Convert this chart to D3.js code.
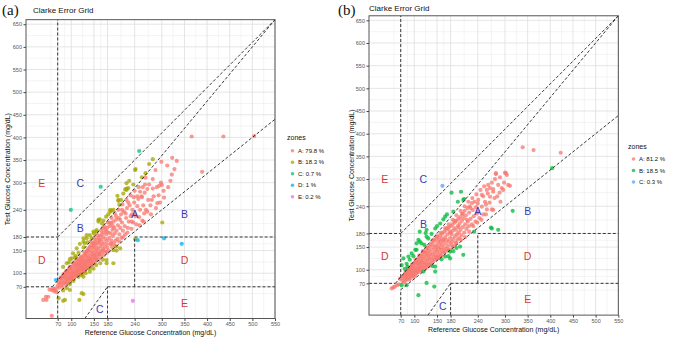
<!DOCTYPE html>
<html>
<head>
<meta charset="utf-8">
<script src="https://cdn.jsdelivr.net/npm/d3@7"></script>
<style>
body{margin:0;background:#fff}
svg{display:block;font-family:"Liberation Sans",Arial,sans-serif}
</style>
</head>
<body>
<svg id="chart" width="675" height="342"></svg>
<script>
// axis breaks shared by both grids
var xBreaks=[70,100,150,180,240,300,350,400,450,500,550]
var yBreaks=[70,100,150,180,240,300,350,400,450,500,550,600,650]
var xMax=550, yMax=660

// Clarke zone borders [x1,y1,x2,y2]
var borders=[
  [0,70,58.33,70],[58.33,70,550,660],[70,84,70,660],[0,180,70,180],
  [70,180,550,660],[70,0,70,56],[70,56,550,440],[180,0,180,70],
  [180,70,550,70],[240,70,240,180],[240,180,550,180],[130,0,180,70]
]
var zoneLetters=['A','B','B','C','C','D','D','E','E']
var letterX=[240,120,350,120,163,35,350,35,350]
var letterY=[230,200,230,300,20,130,130,300,35]

// panel (a)
var aLegend=['A: 79.8 %','B: 18.3 %','C: 0.7 %','D: 1 %','E: 0.2 %']
var aColors=['#F8766D','#A3A500','#00BF7D','#00B0F6','#E76BF3']
var aA=[[38,41],[44,48],[45,41],[49,48],[52,64],[57,63],[60,65],[57,6],[62,60],[66,62],[64,66],[68,58],
[70,72],[72,80],[73,68],[75,78],[76,86],[78,74],[79,90],[80,82],[81,70],[82,94],[83,78],[84,88],[85,99],[86,80],[87,92],[88,76],[88,102],[89,86],[90,96],[91,82],[92,105],[92,90],[93,78],[94,100],[95,88],[95,110],[96,95],[97,84],[98,104],[99,92],[99,112],[100,98],[100,86],
[101,108],[102,92],[103,115],[103,100],[104,88],[105,104],[106,96],[106,120],[107,110],[108,92],[108,102],[109,115],[110,98],[110,124],[111,106],[112,94],[112,118],[113,102],[114,110],[114,128],[115,96],[115,120],[116,106],[117,114],[117,100],[118,130],[118,122],[119,108],[120,98],[120,116],[121,126],[122,104],[122,134],[123,112],[123,120],[124,100],[125,128],[125,110],[126,138],[126,118],[127,106],[128,124],[128,132],[129,112],[130,140],[130,120],[130,104],
[131,128],[132,116],[132,145],[133,110],[133,136],[134,124],[135,150],[135,118],[136,130],[136,140],[137,112],[138,126],[138,155],[139,134],[140,120],[140,146],[141,130],[141,158],[142,116],[142,138],[143,126],[144,150],[144,162],[145,132],[145,120],[146,142],[147,156],[147,126],[148,166],[148,136],[149,146],[150,122],[150,158],[151,140],[152,170],[152,130],[153,150],[154,162],[155,128],[155,142],[156,174],[156,154],[157,136],[158,166],[159,146],[160,130],[160,178],[160,156],
[162,142],[162,168],[163,182],[164,150],[165,136],[165,160],[166,174],[167,186],[168,146],[168,164],[170,154],[170,180],[171,190],[172,140],[172,168],[174,158],[175,196],[175,176],[176,148],[177,186],[178,164],[179,200],[180,156],[180,172],[182,190],[183,150],[184,178],[185,204],[186,164],[187,188],[188,210],[189,172],[190,158],[191,196],[192,182],[193,214],[194,166],[195,200],[196,188],[198,172],[199,218],[200,194],
[202,176],[203,206],[205,222],[206,186],[208,200],[210,230],[211,178],[212,212],[214,194],[216,236],[218,204],[219,186],[221,222],[223,244],[225,200],[227,214],[229,250],[231,226],[233,198],[235,240],[237,212],[239,256],[241,230],[244,208],[246,248],[248,264],[250,224],[252,240],[255,270],[257,216],[259,250],[261,232],
[258,290],[256,268],[264,311],[268,286],[272,296],[280,287],[280,308],[286,328],[289,290],[293,272],[294,293],[298,300],[300,295],[299,346],[305,267],[312,338],[319,304],[323,355],[328,330],[333,348],[366,402],[436,402],[504,403],[389,324],
[265,240],[270,262],[275,250],[282,270],[290,255],[262,278],[276,230],
[143,170],[151,178],[158,184],[166,194],[173,204],[181,212],[189,222],[196,232],[204,240],[213,252],[222,262],[231,272],[240,282],[249,290],[146,118],[154,134],[163,142],[171,150],[179,146],[188,166],[197,160],[206,170],[215,180],[224,190],[233,214],[242,226],[251,206],[260,214],[268,236],[278,262],[287,244],[296,256],[304,282],[314,290],[322,318],[136,150],[129,146],[121,137],[113,132],[105,124],[97,114],[89,105],[83,98],[77,91],[170,200],[185,212],[199,226],[212,240],[226,256],[238,268],[252,280],[263,296],[246,270],[234,230],[220,232],[208,218],[192,204],[178,192],[163,172],[150,166]]
var aB=[[82,114],[90,122],[97,131],[101,133],[104,144],[108,135],[112,155],[116,145],[119,165],[127,157],[127,177],[134,184],[136,168],[145,177],[156,192],[156,195],[160,218],[163,219],[160,214],[171,216],[177,225],[186,236],[186,240],[189,238],[193,240],[202,271],[204,262],[206,251],[204,260],[219,285],[222,287],[222,299],[222,284],[226,288],[228,304],[237,296],[241,328],[242,330],[256,312],[264,321],[272,341],[280,352],[149,192],[141,184],[134,177],[127,170],[110,138],[95,124],[130,166],[150,188],[168,210],[182,230],[210,262],[215,276],
[301,212],[241,175],[200,159],[193,151],[178,129],[164,122],[149,110],[141,103],[123,96],[116,92],[105,83],[97,76],[90,67],[82,62],[127,54],[118,41],[82,39],[72,45],[127,92],[141,110],[193,122],[178,122],[200,150],[208,155],[123,56],[86,41],[97,63],[132,100],[155,118],[170,130]]
var aC=[[250,370],[165,291],[99,240]]
var aD=[[247,173],[305,177],[344,165],[66,85]]
var aE=[[236,39]]

// panel (b)
var bLegend=['A: 81.2 %','B: 18.5 %','C: 0.3 %']
var bColors=['#F8766D','#00BA38','#619CFF']
var bA=[[50,59],[54,61],[57,63],[62,66],[66,68],[68,80],[72,81],[74,75],[76,85],
[77,72],[78,88],[79,80],[80,92],[81,76],[82,86],[83,95],[84,80],[85,90],[86,100],[87,84],[88,94],[89,78],[90,104],[90,88],[91,97],[92,82],[93,106],[93,92],[94,100],[95,86],[96,110],[96,96],[97,90],[98,104],[99,84],[99,114],[100,96],
[101,104],[101,88],[102,116],[103,98],[104,110],[104,92],[105,120],[106,102],[107,94],[107,114],[108,124],[109,104],[110,96],[110,116],[111,108],[112,126],[112,100],[113,118],[114,110],[115,130],[115,98],[116,120],[117,106],[118,134],[118,114],[119,124],[120,104],[120,140],[121,116],[122,128],[123,110],[124,136],[124,102],[125,120],[126,144],[126,112],[127,130],[128,106],[128,138],[129,122],[130,148],[130,114],
[131,132],[132,108],[132,142],[133,124],[134,152],[134,116],[135,136],[136,128],[137,156],[137,112],[138,144],[139,122],[140,134],[140,160],[141,118],[142,150],[143,128],[144,164],[144,138],[145,122],[146,154],[146,144],[147,132],[148,168],[149,126],[149,150],[150,140],[151,172],[152,160],[152,132],[153,146],[154,126],[155,166],[155,154],[156,138],[157,176],[158,148],[158,162],[159,132],[160,170],[160,144],
[161,156],[162,180],[163,138],[164,164],[165,150],[166,184],[167,142],[168,172],[169,158],[170,188],[171,146],[172,166],[173,178],[174,152],[175,192],[176,162],[177,144],[178,184],[179,170],[180,196],[181,156],[182,178],[183,162],[184,200],[185,186],[186,168],[187,152],[188,192],[189,204],[190,174],[191,160],[192,188],[193,208],[194,178],[195,166],[196,196],[197,212],[198,182],[199,170],[200,202],
[201,216],[202,188],[204,176],[205,208],[206,224],[207,194],[209,214],[210,182],[211,230],[212,200],[214,220],[215,190],[217,236],[218,206],[220,196],[221,226],[222,240],[224,212],[227,247],[227,200],[229,232],[231,218],[233,250],[235,206],[236,238],[238,224],[241,254],[241,228],[244,214],
[249,265],[249,239],[256,250],[260,276],[260,233],[263,287],[267,261],[267,280],[271,292],[271,233],[274,272],[274,278],[274,232],[278,300],[280,311],[280,313],[285,287],[289,304],[293,280],[296,276],[300,314],[302,313],[304,309],[307,287],[311,285],[252,222],[258,244],[283,262],[290,250],
[339,370],[363,364],[423,358],
[142,166],[150,174],[159,182],[168,192],[176,200],[185,210],[193,220],[202,230],[211,240],[219,250],[228,258],[237,266],[246,276],[254,284],[150,124],[158,130],[167,138],[175,143],[184,150],[193,158],[203,166],[212,172],[221,184],[230,196],[239,204],[248,210],[258,222],[266,248],[277,258],[288,270],[298,292],[127,150],[119,141],[111,132],[103,122],[95,112],[87,102],[81,95],[173,192],[189,208],[206,222],[224,236],[240,246],[252,262],[262,268],[216,210],[198,194],[180,182],[165,166]]
var bB=[[404,324],[317,230],[182,270],[203,272],[208,254],[210,256],[186,228],[168,217],[164,211],[157,202],[146,191],[127,188],[125,181],[138,179],[131,169],[105,158],[112,162],[122,155],[105,144],[94,136],[87,129],[76,125],[72,110],[83,113],[85,107],[79,102],[102,144],[109,166],[116,158],[127,173],[112,184],[150,196],[172,222],[196,250],[98,130],[90,122],
[186,141],[179,140],[208,133],[201,151],[175,130],[160,123],[146,96],[127,71],[144,63],[109,44],[120,96],[83,66],[72,66],[168,129],[179,125],[146,107],[140,108],[193,148],
[271,191],[285,188],[232,184],[269,193]]
var bC=[[162,285]]

var panels=[
  {tag:'(a)',tagX:2,tagY:15,titleX:33,titleY:13,x0:26,x1:275,y0:318.5,y1:19.7,
   series:[aA,aB,aC,aD,aE],colors:aColors,legend:aLegend,legX:287,legY:139.5,itemY:150.7,ytitleX:7},
  {tag:'(b)',tagX:338,tagY:15,titleX:369,titleY:11,x0:369,x1:618.3,y0:315.1,y1:15.8,
   series:[bA,bB,bC],colors:bColors,legend:bLegend,legX:628,legY:149,itemY:159,ytitleX:351}
]

function minorOf(b,max){
  var ext=[b[0]-(b[1]-b[0])].concat(b,[b[b.length-1]+(b[b.length-1]-b[b.length-2])])
  var out=[]
  for(let i=0;i<ext.length-1;i++){
    var m=(ext[i]+ext[i+1])/2
    if(m>=0&&m<=max&&b.indexOf(m)<0) out.push(m)
  }
  return out
}

var svg=d3.select('#chart')
panels.forEach(drawPanel)

function drawPanel(p){
  var x=d3.scaleLinear().domain([0,xMax]).range([p.x0,p.x1]),
      y=d3.scaleLinear().domain([0,yMax]).range([p.y0,p.y1])
  var g=svg.append('g')

  // grid
  var grid=g.append('g')
  minorOf(xBreaks,xMax).forEach(v=>grid.append('line').attr('x1',x(v)).attr('x2',x(v)).attr('y1',p.y0).attr('y2',p.y1).attr('stroke','#ececec').attr('stroke-width',0.6))
  minorOf(yBreaks,yMax).forEach(v=>grid.append('line').attr('y1',y(v)).attr('y2',y(v)).attr('x1',p.x0).attr('x2',p.x1).attr('stroke','#ececec').attr('stroke-width',0.6))
  xBreaks.forEach(v=>grid.append('line').attr('x1',x(v)).attr('x2',x(v)).attr('y1',p.y0).attr('y2',p.y1).attr('stroke','#dedede').attr('stroke-width',0.8))
  yBreaks.forEach(v=>grid.append('line').attr('y1',y(v)).attr('y2',y(v)).attr('x1',p.x0).attr('x2',p.x1).attr('stroke','#dedede').attr('stroke-width',0.8))

  // points
  p.series.forEach((s,i)=>{
    g.append('g').selectAll('circle').data(s).join('circle')
      .attr('cx',d=>x(d[0])).attr('cy',d=>y(d[1])).attr('r',2.1)
      .attr('fill',p.colors[i]).attr('fill-opacity',0.75)
  })

  // zone borders
  g.append('g').selectAll('line').data(borders).join('line')
    .attr('x1',d=>x(d[0])).attr('y1',d=>y(d[1]))
    .attr('x2',d=>x(d[2])).attr('y2',d=>y(d[3]))
    .attr('stroke','#222').attr('stroke-width',0.9)
    .attr('stroke-dasharray','3 2')

  // zone letters
  g.append('g').selectAll('text').data(zoneLetters).join('text')
    .attr('x',(d,i)=>x(letterX[i])).attr('y',(d,i)=>y(letterY[i]))
    .attr('text-anchor','middle').attr('dominant-baseline','central')
    .attr('font-size',10.5)
    .attr('fill',d=>(d=='D'||d=='E')?'#d23a3a':'#3b3bb0')
    .text(d=>d)

  // border
  g.append('rect').attr('x',p.x0).attr('y',p.y1).attr('width',p.x1-p.x0).attr('height',p.y0-p.y1)
    .attr('fill','none').attr('stroke','#444').attr('stroke-width',0.9)

  // axes
  var ax=g.append('g').attr('transform',`translate(0,${p.y0})`)
    .call(d3.axisBottom(x).tickValues(xBreaks).tickSize(2.5).tickPadding(1.5))
  var ay=g.append('g').attr('transform',`translate(${p.x0},0)`)
    .call(d3.axisLeft(y).tickValues(yBreaks).tickSize(2.5).tickPadding(1.5))
  ;[ax,ay].forEach(a=>{
    a.select('.domain').remove()
    a.selectAll('line').attr('stroke','#444')
    a.selectAll('text').attr('font-size',5.5).attr('fill','#555').attr('font-family','"Liberation Sans",Arial,sans-serif')
  })

  // titles
  g.append('text').attr('x',p.tagX).attr('y',p.tagY).attr('font-family','"Liberation Serif","Times New Roman",serif')
    .attr('font-size',15).attr('fill','#111').text(p.tag)
  g.append('text').attr('x',p.titleX).attr('y',p.titleY).attr('font-size',8).attr('fill','#111').text('Clarke Error Grid')
  g.append('text').attr('x',(p.x0+p.x1)/2).attr('y',p.y0+16.5).attr('text-anchor','middle')
    .attr('font-size',7).attr('fill','#111').text('Reference Glucose Concentration (mg/dL)')
  g.append('text').attr('transform',`translate(${p.ytitleX},${(p.y0+p.y1)/2}) rotate(-90)`)
    .attr('text-anchor','middle').attr('dominant-baseline','central')
    .attr('font-size',7).attr('fill','#111').text('Test Glucose Concentration (mg/dL)')

  // legend
  var lg=g.append('g')
  lg.append('text').attr('x',p.legX).attr('y',p.legY).attr('font-size',7).attr('fill','#111').text('zones')
  p.legend.forEach((t,i)=>{
    var cy=p.itemY+i*11.5
    lg.append('circle').attr('cx',p.legX+5.5).attr('cy',cy).attr('r',1.8).attr('fill',p.colors[i]).attr('fill-opacity',0.75)
    lg.append('text').attr('x',p.legX+11).attr('y',cy).attr('dominant-baseline','central')
      .attr('font-size',6).attr('fill','#111').text(t)
  })
}
</script>
</body>
</html>
